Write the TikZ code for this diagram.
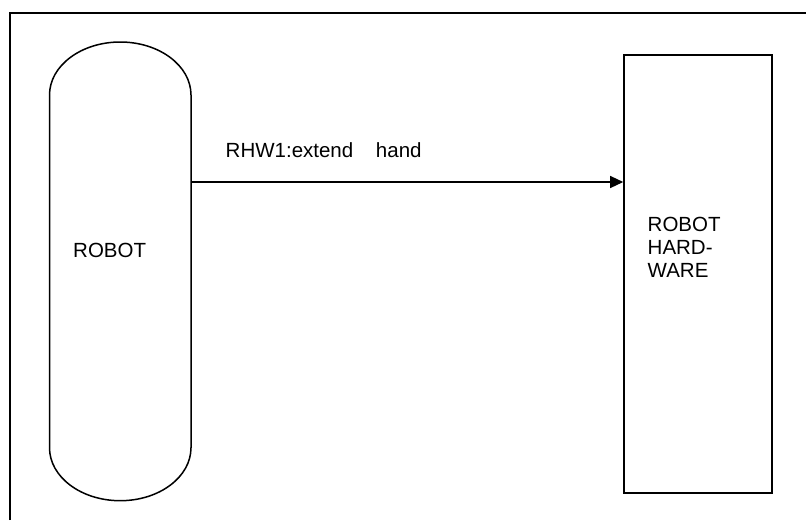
\documentclass[tikz,border=0pt]{standalone}
\usepackage{fontspec}
\setmainfont{Liberation Sans}
\usetikzlibrary{arrows.meta,calc}

\begin{document}
\begin{tikzpicture}[x=1pt, y=-1pt,
  edge/.style={black, line width=1.5pt},
  lbl/.style={inner sep=0pt, font=\fontsize{20.5}{23}\selectfont}]
\useasboundingbox (0,0) rectangle (806,520);
\draw [black, line width=2pt] (10,520) -- (10,13) -- (806,13);

\node [minimum width=141.5pt, minimum height=458.7pt, inner sep=0pt, outer sep=0pt] (robot) at (120.25,271.35) {};
\draw [edge] ($(robot.north west)+(0,53)$) arc [start angle=180, end angle=0, x radius=70.75pt, y radius=53pt]
  -- ($(robot.south east)+(0,-53)$) arc [start angle=0, end angle=-180, x radius=70.75pt, y radius=53pt] -- cycle;
\node [lbl, anchor=base west] (robotname) at (73,257.3) {ROBOT};

\node [draw, black, line width=1.6pt, minimum width=148pt, minimum height=438pt, inner sep=0pt] (hw) at (698,274) {};
\node [lbl, anchor=base west, align=left] (hwname) at (647.5,277.7) {ROBOT\\HARD-\\WARE};

\coordinate (msgy) at (0,182);
\draw [edge, line width=1.3pt, -{Triangle[length=13pt, width=12pt]}] (robot.east |- msgy) -- (hw.west |- msgy);
\node [lbl, anchor=base west] (msg) at (225.5,157.7) {RHW1:extend\hspace{17pt} hand};
\end{tikzpicture}
\end{document}
